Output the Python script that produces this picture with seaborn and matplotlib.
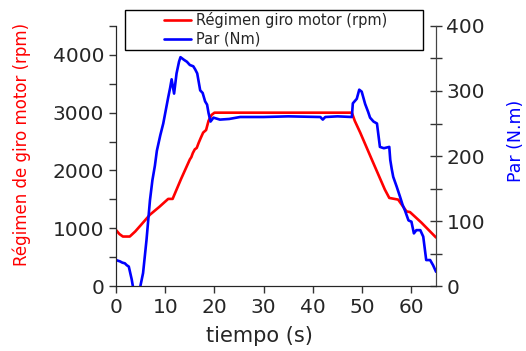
import numpy as np
import pandas as pd
import matplotlib
matplotlib.use("Agg")
import matplotlib.pyplot as plt
from matplotlib.patches import Rectangle
from matplotlib.ticker import MultipleLocator
import seaborn as sns

# engine speed (rpm) vs time
t_rpm = [0, 0.7, 1.4, 2.8, 3.9, 5.0, 6.9, 8.8, 10.6, 11.5, 13.2, 15.0, 15.3, 15.6,
         16.0, 16.4, 16.8, 17.2, 17.7, 18.3, 18.8, 19.4, 20.0, 30.0, 40.0, 47.9,
         48.5, 49.6, 52.0, 54.6, 55.5, 57.3, 59.0, 59.7, 62.0, 65.0]
rpm = [970, 900, 857, 857, 944, 1050, 1235, 1370, 1508, 1508, 1850, 2191, 2230, 2300,
       2365, 2390, 2480, 2560, 2655, 2700, 2860, 2960, 3000, 3000, 3000, 3000,
       2857, 2655, 2180, 1670, 1525, 1496, 1292, 1280, 1100, 840]

# torque (Nm) vs time
t_par = [0, 0.8, 1.3, 1.8, 2.2, 2.6, 3.2, 3.6, 4.5, 4.9, 5.5, 6.2, 6.9, 7.4, 7.9,
         8.3, 9.0, 9.6, 10.1, 10.6, 11.0, 11.3, 11.8, 12.3, 12.8, 13.1, 13.8, 14.4,
         15.0, 15.7, 16.1, 16.5, 17.1, 17.6, 18.1, 18.5, 18.8, 19.2, 19.8, 21.1,
         23.0, 25.2, 30.0, 35.0, 41.5, 42.0, 42.5, 45.0, 47.9, 48.1, 48.9, 49.4,
         49.9, 50.6, 51.2, 51.6, 52.3, 53.0, 53.6, 54.4, 55.5, 55.7, 56.0, 56.3,
         57.0, 57.7, 58.2, 58.7, 59.4, 60.0, 60.5, 61.0, 61.8, 62.4, 63.0, 63.8,
         64.4, 65.0]
par = [40, 38, 36, 35, 32, 30, 10, -8, -8, -2, 20, 71, 132, 163, 185,
       208, 232, 250, 270, 290, 305, 318, 296, 327, 345, 352, 348, 345,
       340, 338, 333, 327, 301, 297, 284, 279, 266, 253, 259, 256,
       257, 260, 260, 261, 260, 256, 260, 261, 260, 281,
       288, 302, 299, 280, 268, 259, 253, 250, 214, 212, 214, 194, 180, 168,
       153, 137, 125, 116, 101, 99, 81, 86, 86, 76, 40, 40,
       32, 22]

df_rpm = pd.DataFrame({"t": t_rpm, "v": rpm})
df_par = pd.DataFrame({"t": t_par, "v": par})

sns.set_style("ticks")
plt.rcParams["font.family"] = ["DejaVu Sans"]

fig = plt.figure(figsize=(5.26, 3.51), dpi=100)
ax = fig.add_axes([0.2205, 0.185, 0.6085, 0.741])
ax2 = ax.twinx()

sns.lineplot(data=df_rpm, x="t", y="v", ax=ax, color="#ff0000", lw=1.9,
             label="Régimen giro motor (rpm)", legend=False)
sns.lineplot(data=df_par, x="t", y="v", ax=ax2, color="#0000ff", lw=1.9,
             label="Par (Nm)", legend=False)

ax.set_xlim(0, 65)
ax.set_ylim(0, 4500)
ax2.set_ylim(0, 400)

ax.xaxis.set_major_locator(MultipleLocator(10))
ax.yaxis.set_major_locator(MultipleLocator(1000))
ax.yaxis.set_minor_locator(MultipleLocator(500))
ax2.yaxis.set_major_locator(MultipleLocator(100))
ax2.yaxis.set_minor_locator(MultipleLocator(50))

for a in (ax, ax2):
    a.spines["top"].set_visible(False)
    a.tick_params(which="both", labelsize=14.5, length=5, width=1, color="#333333")
ax2.tick_params(axis="y", which="both", direction="inout", length=8)
ax2.spines["right"].set_color("#444444")

ax.set_xlabel("tiempo (s)", fontsize=15)
ax.xaxis.set_label_coords(0.447, -0.155)
ax.set_ylabel("Régimen de giro motor (rpm)", fontsize=12, color="#ff0000")
ax.yaxis.set_label_coords(-0.265, 0.545)
ax2.set_ylabel("Par (N.m)", fontsize=12.5, color="#0000ff", rotation=90)
ax2.yaxis.set_label_coords(1.222, 0.56)

# legend frame drawn separately to match the wide box of the original
fig.patches.append(Rectangle((125 / 526, 1 - 50 / 351), 298 / 526, 40 / 351,
                             transform=fig.transFigure, facecolor="white",
                             edgecolor="black", lw=1.0, zorder=5))
h1, l1 = ax.get_legend_handles_labels()
h2, l2 = ax2.get_legend_handles_labels()
leg = fig.legend(h1 + h2, l1 + l2, loc="upper left",
                 bbox_to_anchor=(162 / 526, 1 - 10 / 351),
                 fontsize=10.5, frameon=False, handlelength=1.85,
                 borderpad=0.15, labelspacing=0.25, handletextpad=0.35,
                 borderaxespad=0)
leg.set_zorder(6)

fig.savefig("out.png", dpi=100)
